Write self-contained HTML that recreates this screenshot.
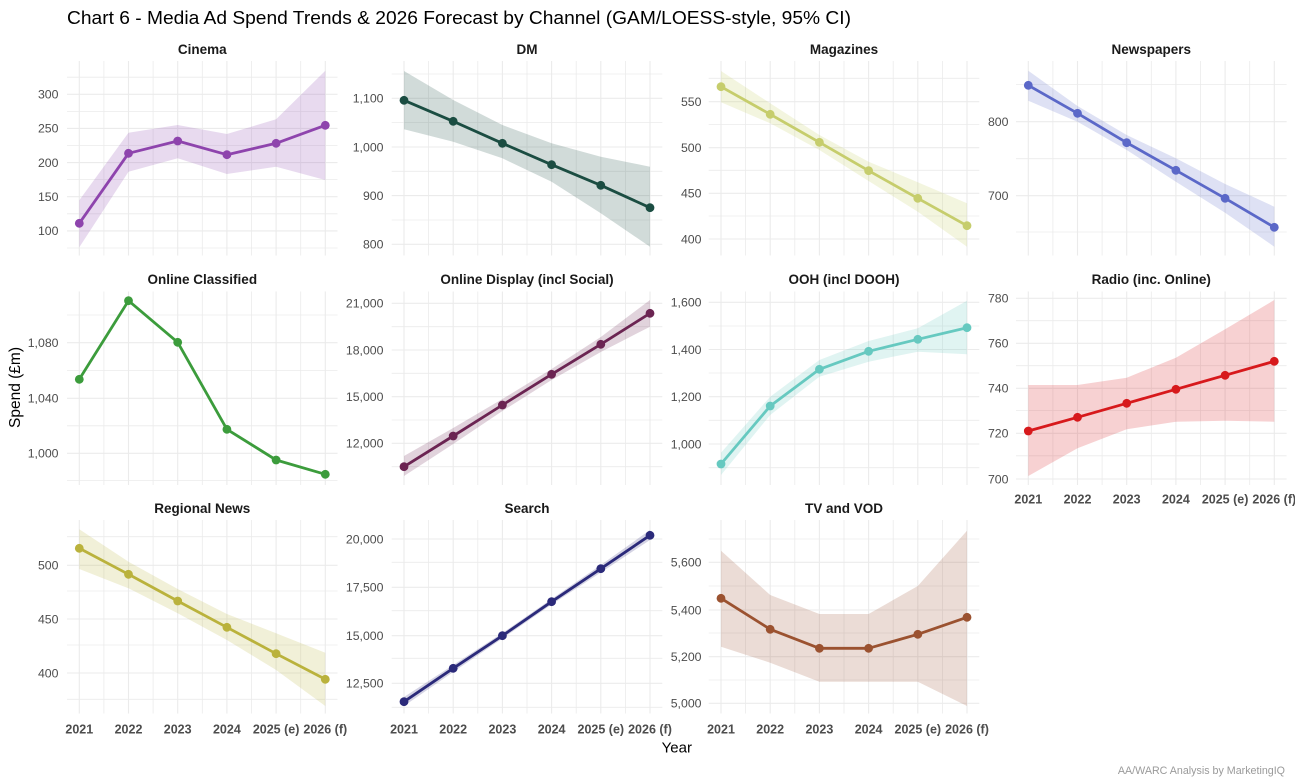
<!DOCTYPE html>
<html><head><meta charset="utf-8"><style>
html,body{margin:0;padding:0;background:#fff;}
svg{display:block;font-family:"Liberation Sans",Arial,sans-serif;}
.mj{stroke:#ebebeb;stroke-width:1.1;fill:none}
.mn{stroke:#ebebeb;stroke-width:.8;fill:none}
.st{font-size:13.5px;font-weight:bold;fill:#1a1a1a;text-anchor:middle}
.yl{font-size:12.3px;fill:#4d4d4d;text-anchor:end}
.xl{font-size:12.5px;font-weight:bold;fill:#4d4d4d;text-anchor:middle}
.ln{fill:none;stroke-width:2.8;stroke-linejoin:round;stroke-linecap:round}
</style></head><body>
<svg width="1295" height="783" viewBox="0 0 1295 783" xmlns="http://www.w3.org/2000/svg">
<rect width="1295" height="783" fill="#fff"/>
<text x="67" y="24" font-size="18.5" fill="#000" textLength="784" lengthAdjust="spacingAndGlyphs">Chart 6 - Media Ad Spend Trends &amp; 2026 Forecast by Channel (GAM/LOESS-style, 95% CI)</text>

<!-- GRID minor -->
<path class="mn" d="
M103.9 61V255.5M153.1 61V255.5M202.3 61V255.5M251.5 61V255.5M300.7 61V255.5
M428.6 61V255.5M477.8 61V255.5M527 61V255.5M576.2 61V255.5M625.4 61V255.5
M745.6 61V255.5M794.8 61V255.5M844 61V255.5M893.2 61V255.5M942.4 61V255.5
M1052.9 61V255.5M1102.1 61V255.5M1151.3 61V255.5M1200.5 61V255.5M1249.7 61V255.5
M103.9 291.5V485M153.1 291.5V485M202.3 291.5V485M251.5 291.5V485M300.7 291.5V485
M428.6 291.5V485M477.8 291.5V485M527 291.5V485M576.2 291.5V485M625.4 291.5V485
M745.6 291.5V485M794.8 291.5V485M844 291.5V485M893.2 291.5V485M942.4 291.5V485
M1052.9 291.5V485M1102.1 291.5V485M1151.3 291.5V485M1200.5 291.5V485M1249.7 291.5V485
M103.9 520V713.5M153.1 520V713.5M202.3 520V713.5M251.5 520V713.5M300.7 520V713.5
M428.6 520V713.5M477.8 520V713.5M527 520V713.5M576.2 520V713.5M625.4 520V713.5
M745.6 520V713.5M794.8 520V713.5M844 520V713.5M893.2 520V713.5M942.4 520V713.5
M67 77.2H337.5M67 111.4H337.5M67 145.5H337.5M67 179.6H337.5M67 213.8H337.5M67 248H337.5
M391.7 74H662.3M391.7 122.6H662.3M391.7 171.3H662.3M391.7 220H662.3
M708.7 78.3H979.3M708.7 124.5H979.3M708.7 170.3H979.3M708.7 216H979.3
M1016 84.5H1286.6M1016 158.7H1286.6M1016 232H1286.6
M67 315H337.5M67 370.5H337.5M67 425.8H337.5M67 480.5H337.5
M391.7 326.7H662.3M391.7 373.3H662.3M391.7 420H662.3M391.7 466.7H662.3
M708.7 326H979.3M708.7 373H979.3M708.7 420.3H979.3M708.7 467.7H979.3
M1016 320.7H1286.6M1016 365.7H1286.6M1016 410.5H1286.6M1016 455.8H1286.6
M67 536.7H337.5M67 591H337.5M67 645H337.5M67 699.3H337.5
M391.7 562.3H662.3M391.7 610.7H662.3M391.7 658.3H662.3M391.7 707.3H662.3
M708.7 539H979.3M708.7 586H979.3M708.7 633H979.3M708.7 680H979.3
"/>
<!-- GRID major -->
<path class="mj" d="
M79.3 61V255.5M128.5 61V255.5M177.7 61V255.5M226.9 61V255.5M276.1 61V255.5M325.3 61V255.5
M404 61V255.5M453.2 61V255.5M502.4 61V255.5M551.6 61V255.5M600.8 61V255.5M650 61V255.5
M721 61V255.5M770.2 61V255.5M819.4 61V255.5M868.6 61V255.5M917.8 61V255.5M967 61V255.5
M1028.3 61V255.5M1077.5 61V255.5M1126.7 61V255.5M1175.9 61V255.5M1225.1 61V255.5M1274.3 61V255.5
M79.3 291.5V485M128.5 291.5V485M177.7 291.5V485M226.9 291.5V485M276.1 291.5V485M325.3 291.5V485
M404 291.5V485M453.2 291.5V485M502.4 291.5V485M551.6 291.5V485M600.8 291.5V485M650 291.5V485
M721 291.5V485M770.2 291.5V485M819.4 291.5V485M868.6 291.5V485M917.8 291.5V485M967 291.5V485
M1028.3 291.5V485M1077.5 291.5V485M1126.7 291.5V485M1175.9 291.5V485M1225.1 291.5V485M1274.3 291.5V485
M79.3 520V713.5M128.5 520V713.5M177.7 520V713.5M226.9 520V713.5M276.1 520V713.5M325.3 520V713.5
M404 520V713.5M453.2 520V713.5M502.4 520V713.5M551.6 520V713.5M600.8 520V713.5M650 520V713.5
M721 520V713.5M770.2 520V713.5M819.4 520V713.5M868.6 520V713.5M917.8 520V713.5M967 520V713.5
M67 94.3H337.5M67 128.4H337.5M67 162.6H337.5M67 196.7H337.5M67 230.9H337.5
M391.7 98.3H662.3M391.7 147H662.3M391.7 195.6H662.3M391.7 244.3H662.3
M708.7 101.7H979.3M708.7 147.7H979.3M708.7 193.3H979.3M708.7 239H979.3
M1016 121.7H1286.6M1016 195.7H1286.6
M67 342.7H337.5M67 398.3H337.5M67 453.3H337.5
M391.7 303.3H662.3M391.7 350H662.3M391.7 396.7H662.3M391.7 443.3H662.3
M708.7 302.3H979.3M708.7 349.5H979.3M708.7 396.7H979.3M708.7 444H979.3
M1016 298.3H1286.6M1016 343.3H1286.6M1016 388.3H1286.6M1016 433.3H1286.6M1016 479H1286.6
M67 565.3H337.5M67 619H337.5M67 673H337.5
M391.7 539H662.3M391.7 587.3H662.3M391.7 635.7H662.3M391.7 683.3H662.3
M708.7 562.3H979.3M708.7 610H979.3M708.7 656.7H979.3M708.7 703.3H979.3
"/>

<!-- Strip titles -->
<text class="st" x="202.3" y="54">Cinema</text>
<text class="st" x="527" y="54">DM</text>
<text class="st" x="844" y="54">Magazines</text>
<text class="st" x="1151.3" y="54">Newspapers</text>
<text class="st" x="202.3" y="284">Online Classified</text>
<text class="st" x="527" y="284">Online Display (incl Social)</text>
<text class="st" x="844" y="284">OOH (incl DOOH)</text>
<text class="st" x="1151.3" y="284">Radio (inc. Online)</text>
<text class="st" x="202.3" y="513">Regional News</text>
<text class="st" x="527" y="513">Search</text>
<text class="st" x="844" y="513">TV and VOD</text>

<!-- Y tick labels -->
<g class="yl">
<text x="58.5" y="98.6">300</text><text x="58.5" y="132.7">250</text><text x="58.5" y="166.9">200</text><text x="58.5" y="201">150</text><text x="58.5" y="235.2">100</text>
<text x="383.5" y="102.6">1,100</text><text x="383.5" y="151.3">1,000</text><text x="383.5" y="199.9">900</text><text x="383.5" y="248.6">800</text>
<text x="701.5" y="106">550</text><text x="701.5" y="152">500</text><text x="701.5" y="197.6">450</text><text x="701.5" y="243.3">400</text>
<text x="1008.5" y="126">800</text><text x="1008.5" y="200">700</text>
<text x="58.5" y="347">1,080</text><text x="58.5" y="402.6">1,040</text><text x="58.5" y="457.6">1,000</text>
<text x="383.5" y="307.6">21,000</text><text x="383.5" y="354.3">18,000</text><text x="383.5" y="401">15,000</text><text x="383.5" y="447.6">12,000</text>
<text x="701.5" y="306.6">1,600</text><text x="701.5" y="353.8">1,400</text><text x="701.5" y="401">1,200</text><text x="701.5" y="448.3">1,000</text>
<text x="1008.5" y="302.6">780</text><text x="1008.5" y="347.6">760</text><text x="1008.5" y="392.6">740</text><text x="1008.5" y="437.6">720</text><text x="1008.5" y="483.3">700</text>
<text x="58.5" y="569.6">500</text><text x="58.5" y="623.3">450</text><text x="58.5" y="677.3">400</text>
<text x="383.5" y="543.3">20,000</text><text x="383.5" y="591.6">17,500</text><text x="383.5" y="640">15,000</text><text x="383.5" y="687.6">12,500</text>
<text x="701.5" y="566.6">5,600</text><text x="701.5" y="614.3">5,400</text><text x="701.5" y="661">5,200</text><text x="701.5" y="707.6">5,000</text>
</g>

<!-- X tick labels -->
<g class="xl">
<text x="79.3" y="733.5">2021</text><text x="128.5" y="733.5">2022</text><text x="177.7" y="733.5">2023</text><text x="226.9" y="733.5">2024</text><text x="276.1" y="733.5">2025 (e)</text><text x="325.3" y="733.5">2026 (f)</text>
<text x="404" y="733.5">2021</text><text x="453.2" y="733.5">2022</text><text x="502.4" y="733.5">2023</text><text x="551.6" y="733.5">2024</text><text x="600.8" y="733.5">2025 (e)</text><text x="650" y="733.5">2026 (f)</text>
<text x="721" y="733.5">2021</text><text x="770.2" y="733.5">2022</text><text x="819.4" y="733.5">2023</text><text x="868.6" y="733.5">2024</text><text x="917.8" y="733.5">2025 (e)</text><text x="967" y="733.5">2026 (f)</text>
<text x="1028.3" y="503.5">2021</text><text x="1077.5" y="503.5">2022</text><text x="1126.7" y="503.5">2023</text><text x="1175.9" y="503.5">2024</text><text x="1225.1" y="503.5">2025 (e)</text><text x="1274.3" y="503.5">2026 (f)</text>
</g>

<!-- Axis titles -->
<text x="676.8" y="752.5" font-size="15" fill="#000" text-anchor="middle">Year</text>
<text x="20" y="387.5" font-size="15.5" fill="#000" text-anchor="middle" transform="rotate(-90 20 387.5)">Spend (£m)</text>
<text x="1285" y="774" font-size="10.7" fill="#9a9a9a" text-anchor="end">AA/WARC Analysis by MarketingIQ</text>

<!-- P1 Cinema -->
<polygon fill="#8e44ad" fill-opacity="0.2" points="79.3,200.3 128.5,132.7 177.7,125 226.9,134 276.1,119.3 325.3,70.7 325.3,180 276.1,166.7 226.9,174 177.7,158.3 128.5,171.7 79.3,247.3"/>
<g fill="#8e44ad"><polyline class="ln" stroke="#8e44ad" points="79.3,223.3 128.5,153.3 177.7,141 226.9,154.7 276.1,143.3 325.3,125.3"/>
<circle cx="79.3" cy="223.3" r="4.4"/><circle cx="128.5" cy="153.3" r="4.4"/><circle cx="177.7" cy="141" r="4.4"/><circle cx="226.9" cy="154.7" r="4.4"/><circle cx="276.1" cy="143.3" r="4.4"/><circle cx="325.3" cy="125.3" r="4.4"/></g>

<!-- P2 DM -->
<polygon fill="#1b4d42" fill-opacity="0.2" points="404,71 453.2,100 502.4,125 551.6,143.3 600.8,156.7 650,166.7 650,246.7 600.8,213.3 551.6,181.7 502.4,158.3 453.2,141.7 404,129.3"/>
<g fill="#1b4d42"><polyline class="ln" stroke="#1b4d42" points="404,100.3 453.2,121.3 502.4,143.3 551.6,164.7 600.8,185.3 650,207.7"/>
<circle cx="404" cy="100.3" r="4.4"/><circle cx="453.2" cy="121.3" r="4.4"/><circle cx="502.4" cy="143.3" r="4.4"/><circle cx="551.6" cy="164.7" r="4.4"/><circle cx="600.8" cy="185.3" r="4.4"/><circle cx="650" cy="207.7" r="4.4"/></g>

<!-- P3 Magazines -->
<polygon fill="#c4cb5e" fill-opacity="0.2" points="721,71 770.2,103.3 819.4,135 868.6,161.7 917.8,182.3 967,203.3 967,246.7 917.8,211.7 868.6,181 819.4,150 770.2,123.3 721,102.3"/>
<g fill="#c6cd6c"><polyline class="ln" stroke="#c6cd6c" points="721,86.7 770.2,114.3 819.4,142.3 868.6,170.7 917.8,198.3 967,225.7"/>
<circle cx="721" cy="86.7" r="4.4"/><circle cx="770.2" cy="114.3" r="4.4"/><circle cx="819.4" cy="142.3" r="4.4"/><circle cx="868.6" cy="170.7" r="4.4"/><circle cx="917.8" cy="198.3" r="4.4"/><circle cx="967" cy="225.7" r="4.4"/></g>

<!-- P4 Newspapers -->
<polygon fill="#5b68c8" fill-opacity="0.2" points="1028.3,70.7 1077.5,106 1126.7,135 1175.9,158.3 1225.1,184 1274.3,206.7 1274.3,246.7 1225.1,212.7 1175.9,181.7 1126.7,150 1077.5,121.7 1028.3,100.7"/>
<g fill="#5b68c8"><polyline class="ln" stroke="#5b68c8" points="1028.3,85.3 1077.5,113.3 1126.7,142.7 1175.9,170.3 1225.1,198.3 1274.3,227.3"/>
<circle cx="1028.3" cy="85.3" r="4.4"/><circle cx="1077.5" cy="113.3" r="4.4"/><circle cx="1126.7" cy="142.7" r="4.4"/><circle cx="1175.9" cy="170.3" r="4.4"/><circle cx="1225.1" cy="198.3" r="4.4"/><circle cx="1274.3" cy="227.3" r="4.4"/></g>

<!-- P5 Online Classified -->
<g fill="#3c9c3c"><polyline class="ln" stroke="#3c9c3c" points="79.3,379.3 128.5,300.7 177.7,342.3 226.9,429.3 276.1,460 325.3,474.3"/>
<circle cx="79.3" cy="379.3" r="4.4"/><circle cx="128.5" cy="300.7" r="4.4"/><circle cx="177.7" cy="342.3" r="4.4"/><circle cx="226.9" cy="429.3" r="4.4"/><circle cx="276.1" cy="460" r="4.4"/><circle cx="325.3" cy="474.3" r="4.4"/></g>

<!-- P6 Online Display -->
<polygon fill="#6b2452" fill-opacity="0.2" points="404,456 453.2,428 502.4,399 551.6,369 600.8,337 650,300 650,326.7 600.8,352 551.6,380 502.4,411 453.2,444 404,476"/>
<g fill="#6b2452"><polyline class="ln" stroke="#6b2452" points="404,466.7 453.2,436 502.4,405 551.6,374.3 600.8,344.3 650,313.3"/>
<circle cx="404" cy="466.7" r="4.4"/><circle cx="453.2" cy="436" r="4.4"/><circle cx="502.4" cy="405" r="4.4"/><circle cx="551.6" cy="374.3" r="4.4"/><circle cx="600.8" cy="344.3" r="4.4"/><circle cx="650" cy="313.3" r="4.4"/></g>

<!-- P7 OOH -->
<polygon fill="#66c9c0" fill-opacity="0.2" points="721,452.7 770.2,396.7 819.4,360 868.6,341 917.8,328.3 967,300.7 967,354.3 917.8,351.7 868.6,361.7 819.4,376.7 770.2,415 721,475"/>
<g fill="#66c9c0"><polyline class="ln" stroke="#66c9c0" points="721,464 770.2,406 819.4,369.3 868.6,351.3 917.8,339.3 967,327.7"/>
<circle cx="721" cy="464" r="4.4"/><circle cx="770.2" cy="406" r="4.4"/><circle cx="819.4" cy="369.3" r="4.4"/><circle cx="868.6" cy="351.3" r="4.4"/><circle cx="917.8" cy="339.3" r="4.4"/><circle cx="967" cy="327.7" r="4.4"/></g>

<!-- P8 Radio -->
<polygon fill="#d7191c" fill-opacity="0.2" points="1028.3,385 1077.5,385 1126.7,377.7 1175.9,357.7 1225.1,329.3 1274.3,300 1274.3,421.7 1225.1,420.7 1175.9,421.7 1126.7,429.3 1077.5,448.3 1028.3,476"/>
<g fill="#d7191c"><polyline class="ln" stroke="#d7191c" points="1028.3,431 1077.5,417.3 1126.7,403.3 1175.9,389.3 1225.1,375.3 1274.3,361.3"/>
<circle cx="1028.3" cy="431" r="4.4"/><circle cx="1077.5" cy="417.3" r="4.4"/><circle cx="1126.7" cy="403.3" r="4.4"/><circle cx="1175.9" cy="389.3" r="4.4"/><circle cx="1225.1" cy="375.3" r="4.4"/><circle cx="1274.3" cy="361.3" r="4.4"/></g>

<!-- P9 Regional News -->
<polygon fill="#bab23c" fill-opacity="0.2" points="79.3,529.3 128.5,561.7 177.7,589 226.9,614 276.1,633.3 325.3,652.7 325.3,706 276.1,670 226.9,640 177.7,613.3 128.5,588.3 79.3,569"/>
<g fill="#bab23c"><polyline class="ln" stroke="#bab23c" points="79.3,548.3 128.5,574.3 177.7,601 226.9,627.3 276.1,653.7 325.3,679.3"/>
<circle cx="79.3" cy="548.3" r="4.4"/><circle cx="128.5" cy="574.3" r="4.4"/><circle cx="177.7" cy="601" r="4.4"/><circle cx="226.9" cy="627.3" r="4.4"/><circle cx="276.1" cy="653.7" r="4.4"/><circle cx="325.3" cy="679.3" r="4.4"/></g>

<!-- P10 Search -->
<polygon fill="#2b2a7a" fill-opacity="0.2" points="404,697 453.2,665 502.4,633 551.6,599 600.8,565 650,530 650,540 600.8,572.5 551.6,604.5 502.4,638.5 453.2,672 404,706"/>
<g fill="#2b2a7a"><polyline class="ln" stroke="#2b2a7a" points="404,701.7 453.2,668.3 502.4,635.7 551.6,601.7 600.8,568.7 650,535.3"/>
<circle cx="404" cy="701.7" r="4.4"/><circle cx="453.2" cy="668.3" r="4.4"/><circle cx="502.4" cy="635.7" r="4.4"/><circle cx="551.6" cy="601.7" r="4.4"/><circle cx="600.8" cy="568.7" r="4.4"/><circle cx="650" cy="535.3" r="4.4"/></g>

<!-- P11 TV and VOD -->
<polygon fill="#9b5230" fill-opacity="0.2" points="721,550.7 770.2,595 819.4,614 868.6,614 917.8,586 967,530.7 967,706 917.8,681.7 868.6,681.7 819.4,681.7 770.2,662.7 721,646.7"/>
<g fill="#9b5230"><polyline class="ln" stroke="#9b5230" points="721,598.3 770.2,629.3 819.4,648.3 868.6,648.3 917.8,634.3 967,617.3"/>
<circle cx="721" cy="598.3" r="4.4"/><circle cx="770.2" cy="629.3" r="4.4"/><circle cx="819.4" cy="648.3" r="4.4"/><circle cx="868.6" cy="648.3" r="4.4"/><circle cx="917.8" cy="634.3" r="4.4"/><circle cx="967" cy="617.3" r="4.4"/></g>
</svg>
</body></html>
